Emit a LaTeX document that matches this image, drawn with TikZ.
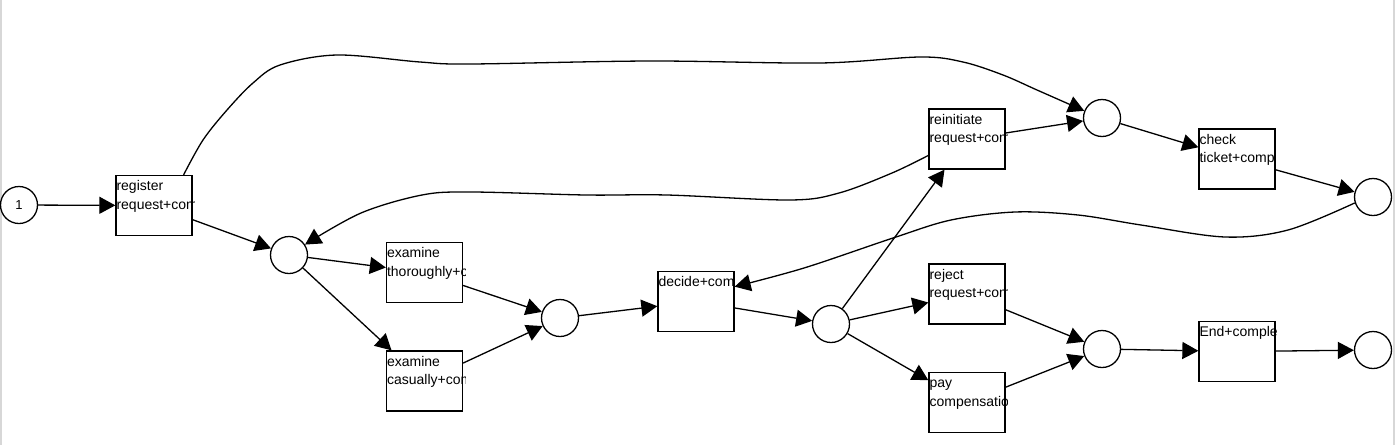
\documentclass[tikz,border=0pt]{standalone}
\usepackage{fontspec}
\setmainfont{Liberation Sans}
\usetikzlibrary{arrows.meta}
\newcommand\trtwo[3]{%
  \begin{scope}
    \clip ([xshift=-1pt]#1.south west) rectangle ([xshift=2pt]#1.north east);
    \node[lbl] (#1-a) at ([xshift=1pt,yshift=-15.7pt]#1.north west) {#2};
    \node[lbl] (#1-b) at ([xshift=1pt,yshift=-34.2pt]#1.north west) {#3};
  \end{scope}}
\newcommand\trone[2]{%
  \begin{scope}
    \clip ([xshift=-1pt]#1.south west) rectangle ([xshift=2pt]#1.north east);
    \node[lbl] (#1-a) at ([xshift=1pt,yshift=-15.7pt]#1.north west) {#2};
  \end{scope}}
\begin{document}
\begin{tikzpicture}[x=1pt,y=-1pt,
  place/.style={draw, circle, line width=1.3pt, minimum size=37pt, inner sep=0pt, fill=white, font=\fontsize{13}{15}\selectfont},
  trans/.style={draw, rectangle, line width=1.3pt, minimum width=76pt, minimum height=60pt, inner sep=0pt, fill=white},
  lbl/.style={anchor=base west, inner sep=0pt, font=\fontsize{14}{17}\selectfont},
  arc/.style={line width=1.3pt, -{Triangle[length=16pt,width=17pt]}},
  sideline/.style={draw={rgb,255:red,215;green,215;blue,215}, line width=1.5pt}]
\useasboundingbox (0,0) rectangle (1396,445);
\fill[white] (0,0) rectangle (1396,445);
\coordinate (fl1) at (1,0); \coordinate (fl2) at (1,445);
\coordinate (fr1) at (1394,0); \coordinate (fr2) at (1394,445);
\draw[sideline] (fl1) -- (fl2);
\draw[sideline] (fr1) -- (fr2);

% places
\node[place] (p1) at (19,205) {1};
\node[place] (p2) at (289,255) {};
\node[place] (p3) at (560,318) {};
\node[place] (p4) at (831,324) {};
\node[place] (p5) at (1102,118) {};
\node[place] (p6) at (1102,349) {};
\node[place] (p7) at (1373,197) {};
\node[place] (p8) at (1373,350) {};

% transitions
\node[trans] (reg) at (154,205.5) {};
\node[trans] (thor) at (424.5,272.5) {};
\node[trans] (cas) at (424.5,381) {};
\node[trans] (dec) at (696,301.5) {};
\node[trans] (rei) at (967,139) {};
\node[trans] (rej) at (967,294) {};
\node[trans] (pay) at (967,402.5) {};
\node[trans] (chk) at (1237,159) {};
\node[trans] (fin) at (1237,351.5) {};

\trtwo{reg}{register}{request+com}
\trtwo{thor}{examine}{thoroughly+c}
\trtwo{cas}{examine}{casually+com}
\trone{dec}{decide+com}
\trtwo{rei}{reinitiate}{request+com}
\trtwo{rej}{reject}{request+com}
\trtwo{pay}{pay}{compensatio}
\trtwo{chk}{check}{ticket+comp}
\trone{fin}{End+comple}

% straight arcs
\draw[arc] (p1) -- (reg);
\draw[arc] (reg) -- (p2);
\draw[arc] (p2) -- (thor);
\draw[arc] (p2) -- (cas);
\draw[arc] (thor) -- (p3);
\draw[arc] (cas) -- (p3);
\draw[arc] (p3) -- (dec);
\draw[arc] (dec) -- (p4);
\draw[arc] (p4) -- (rei);
\draw[arc] (p4) -- (rej);
\draw[arc] (p4) -- (pay);
\draw[arc] (rei) -- (p5);
\draw[arc] (p5) -- (chk);
\draw[arc] (chk) -- (p7);
\draw[arc] (rej) -- (p6);
\draw[arc] (pay) -- (p6);
\draw[arc] (p6) -- (fin);
\draw[arc] (fin) -- (p8);

% curved arcs
\draw[arc] plot[smooth, tension=0.55] coordinates {(reg.46) (203,140) (227,110) (253,83) (280,65) (337,55) (420,62) (470,64) (650,61) (820,63) (920,57) (963,62) (1003,75) (1037,90) (p5.158)};
\draw[arc] plot[smooth, tension=0.55] coordinates {(rei.203) (892,173) (839,193) (790,200) (667,195) (586,195) (471,192) (422,195) (361,213) (p2.33)};
\draw[arc] plot[smooth, tension=0.55] coordinates {(p7.198) (1288,230) (1225,237) (1141,225) (1078,215) (1015,212) (951,220) (893,238) (804,268) (dec.21)};
\end{tikzpicture}
\end{document}
